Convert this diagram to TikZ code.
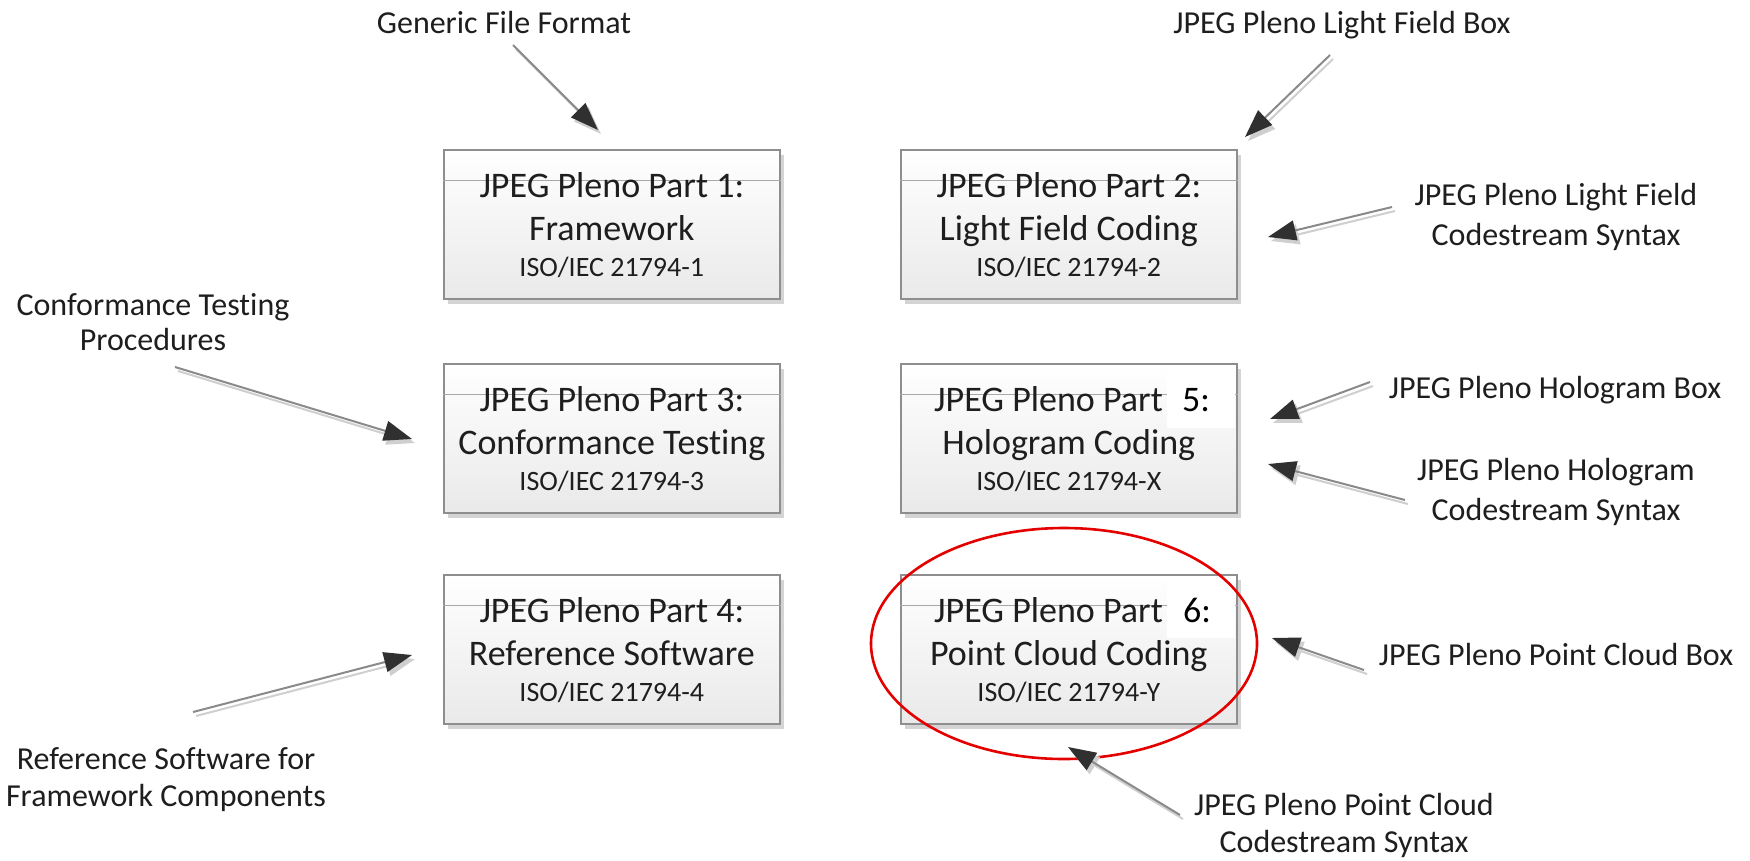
\documentclass[tikz,border=0pt]{standalone}
\usepackage{fontspec}
\setmainfont{Carlito}[Ligatures={NoCommon}]
\usetikzlibrary{arrows.meta,shadows,shapes.geometric}

\definecolor{boxedge}{HTML}{8E8E8E}
\definecolor{boxshade}{HTML}{D4D4D4}
\definecolor{hdrline}{HTML}{A8A8A8}
\definecolor{arrdark}{HTML}{303030}
\definecolor{arrline}{HTML}{8A8A8A}
\definecolor{arrshade}{HTML}{CFCFCF}
\definecolor{txt}{HTML}{1E1E1E}

\tikzset{
  partbox/.style={draw=boxedge, line width=1.6pt, top color=white, bottom color=gray!17,
    minimum width=336pt, minimum height=149pt, anchor=north west, inner sep=0pt,
    drop shadow={shadow xshift=4pt, shadow yshift=-5pt, fill=boxshade, opacity=1}},
  hdr/.style={draw=hdrline, line width=1pt},
  ttl/.style={font=\fontsize{36}{36}\selectfont, anchor=base, inner sep=0pt, text=txt},
  iso/.style={font=\fontsize{28}{28}\selectfont, anchor=base, inner sep=0pt, text=txt},
  lbl/.style={font=\fontsize{32}{32}\selectfont, anchor=base, inner sep=0pt, text=txt},
  conn/.style={draw=arrline, line width=2pt, -{Triangle[length=28pt,width=20pt,color=arrdark]},
    preaction={draw=arrshade, line width=2pt, -{Triangle[length=28pt,width=20pt,color=arrshade]},
      transform canvas={shift={(3pt,-4pt)}}}},
  hilite/.style={draw=red!90!black, line width=2.6pt, ellipse, inner sep=0pt,
    minimum width=386pt, minimum height=231pt}
}

\newcommand\mkpart[6]{%
  \node[partbox] (#1) at (#2,#3) {};
  \draw[hdr] ([yshift=-31pt]#1.north west) -- ([yshift=-31pt]#1.north east);
  \node[ttl] (#1a) at ([yshift=-48pt]#1.north) {#4};
  \node[ttl] (#1b) at ([yshift=-91pt]#1.north) {#5};
  \node[iso] (#1c) at ([yshift=-127pt]#1.north) {#6};
}

\begin{document}
\begin{tikzpicture}[x=1pt,y=-1pt]
\useasboundingbox (0,0) rectangle (1750,860);
\fill[white] (0,0) rectangle (1750,860);

% boxes
\mkpart{pa}{443}{149}{JPEG Pleno Part 1:}{Framework}{ISO/IEC 21794-1}
\mkpart{pb}{900}{149}{JPEG Pleno Part 2:}{Light Field Coding}{ISO/IEC 21794-2}
\mkpart{pc}{443}{363}{JPEG Pleno Part 3:}{Conformance Testing}{ISO/IEC 21794-3}
\mkpart{pd}{900}{363}{}{Hologram Coding}{ISO/IEC 21794-X}
\mkpart{pe}{443}{574}{JPEG Pleno Part 4:}{Reference Software}{ISO/IEC 21794-4}
\mkpart{pf}{900}{574}{}{Point Cloud Coding}{ISO/IEC 21794-Y}

% overlaid part numbers
\node[ttl, anchor=base west] (pdt) at (934,411) {JPEG Pleno Part};
\fill[white] (1167,366) rectangle (1235,428);
\node[ttl, anchor=base west, text=black] (pdn) at (1182,411) {5:};
\node[ttl, anchor=base west] (pft) at (934,622) {JPEG Pleno Part};
\fill[white] (1167,577) rectangle (1235,638);
\node[ttl, anchor=base west, text=black] (pfn) at (1183,622) {6:};

% highlight
\node[hilite] (hl) at (1064,643.5) {};

% labels
\node[lbl] (gff) at (504,33) {Generic File Format};
\node[lbl] (lfb) at (1342,33) {JPEG Pleno Light Field Box};
\node[lbl] (lfc1) at (1556,205) {JPEG Pleno Light Field};
\node[lbl] (lfc2) at (1556,245) {Codestream Syntax};
\node[lbl] (ct1) at (153,315) {Conformance Testing};
\node[lbl] (ct2) at (153,350) {Procedures};
\node[lbl] (hbx) at (1555,398) {JPEG Pleno Hologram Box};
\node[lbl] (hcs1) at (1556,480) {JPEG Pleno Hologram};
\node[lbl] (hcs2) at (1556,520) {Codestream Syntax};
\node[lbl] (pcb) at (1556,665) {JPEG Pleno Point Cloud Box};
\node[lbl] (pcc1) at (1344,815) {JPEG Pleno Point Cloud};
\node[lbl] (pcc2) at (1344,852) {Codestream Syntax};
\node[lbl] (rs1) at (166,769) {Reference Software for};
\node[lbl] (rs2) at (166,806) {Framework Components};

% arrow end points
\coordinate (gffS) at (513,45);   \coordinate (gffT) at (598,130);
\coordinate (lfbS) at (1330,55);  \coordinate (lfbT) at (1245,137);
\coordinate (lfcS) at (1392,207); \coordinate (lfcT) at (1268,237);
\coordinate (ctS) at (175,367);   \coordinate (ctT) at (412,439);
\coordinate (hbS) at (1370,382);  \coordinate (hbT) at (1270,419);
\coordinate (hcS) at (1405,500);  \coordinate (hcT) at (1268,464);
\coordinate (pcbS) at (1364,670); \coordinate (pcbT) at (1272,638);
\coordinate (pccS) at (1180,815); \coordinate (pccT) at (1068,747);
\coordinate (rsS) at (193,712);   \coordinate (rsT) at (412,655);

\draw[conn] (gffS) -- (gffT);
\draw[conn] (lfbS) -- (lfbT);
\draw[conn] (lfcS) -- (lfcT);
\draw[conn] (ctS) -- (ctT);
\draw[conn] (hbS) -- (hbT);
\draw[conn] (hcS) -- (hcT);
\draw[conn] (pcbS) -- (pcbT);
\draw[conn] (pccS) -- (pccT);
\draw[conn] (rsS) -- (rsT);
\end{tikzpicture}
\end{document}
